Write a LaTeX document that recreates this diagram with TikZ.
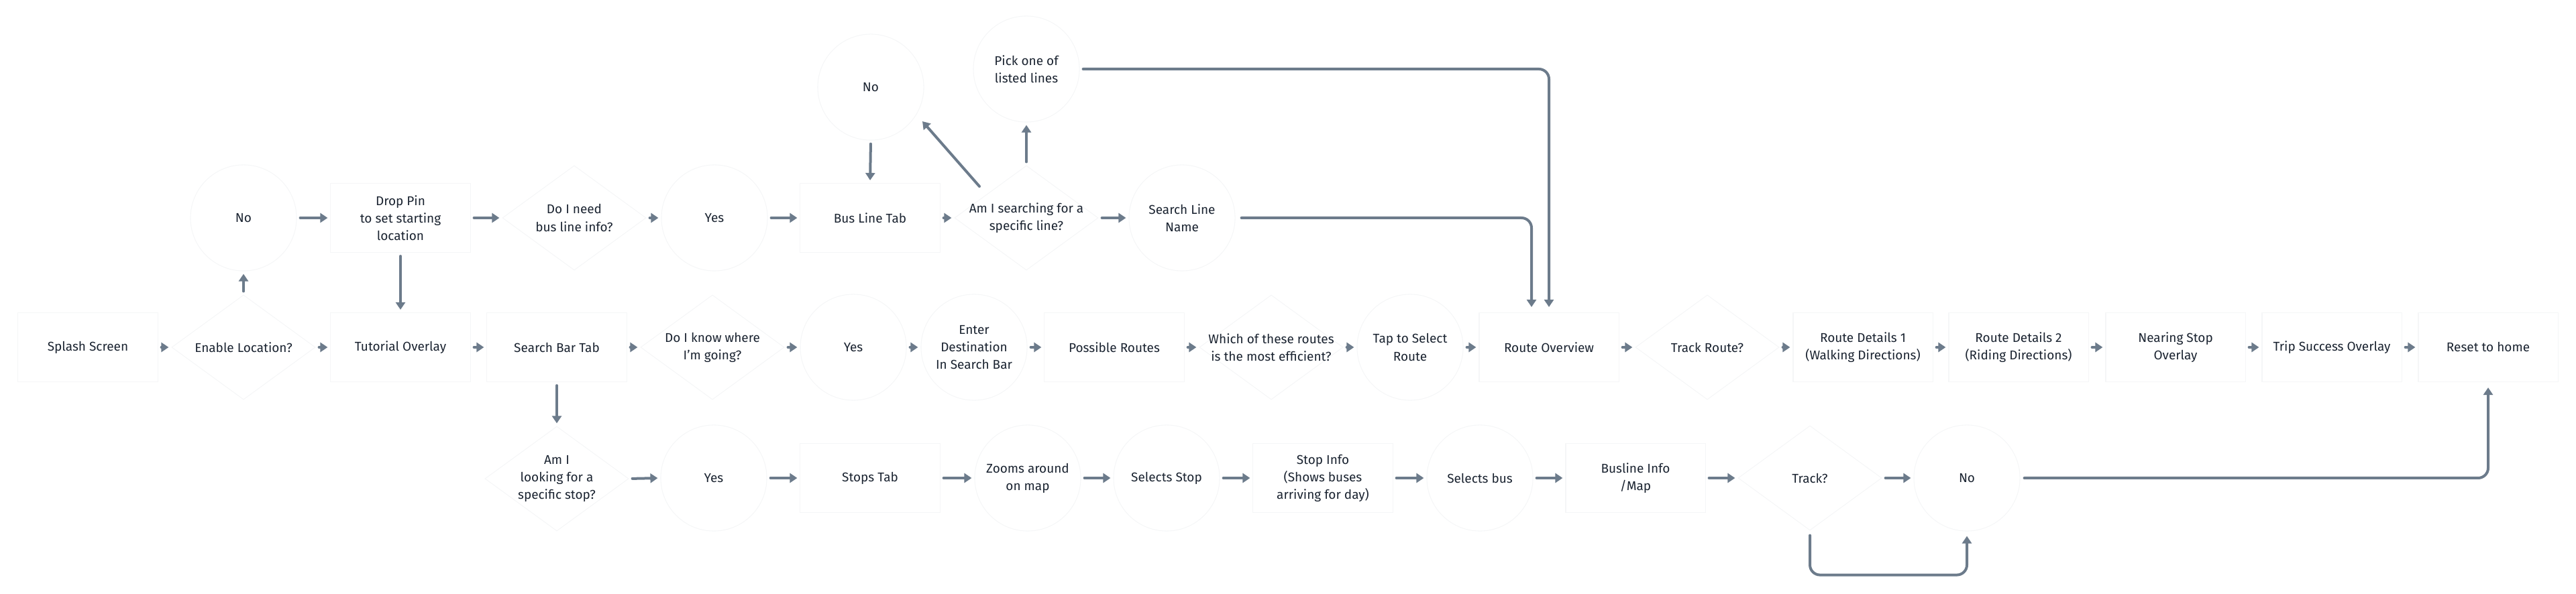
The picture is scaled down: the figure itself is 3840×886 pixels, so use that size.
\documentclass[tikz,border=0pt]{standalone}
\usepackage{fontspec}
\setmainfont{Fira Sans}
\usetikzlibrary{shapes.geometric,arrows.meta,calc}
\definecolor{ink}{HTML}{1B2431}
\definecolor{arrowc}{HTML}{6C7B8B}
\definecolor{faint}{HTML}{F5F6F7}
\begin{document}
\begin{tikzpicture}[x=0.01cm,y=-0.01cm,
  every node/.style={font=\fontsize{5.4pt}{7.4pt}\selectfont, text=ink, align=center},
  boxn/.style={draw=faint, line width=0.3pt, minimum width=2.08cm, minimum height=1.03cm, inner sep=0pt},
  circn/.style={draw=faint, line width=0.3pt, circle, minimum size=1.58cm, inner sep=0pt},
  diam/.style={draw=faint, line width=0.3pt, diamond, minimum width=2.14cm, minimum height=1.56cm, inner sep=0pt},
  txt/.style={inner sep=0pt},
  arr/.style={draw=arrowc, line width=0.04cm, line cap=round, -{Triangle[length=0.11cm,width=0.14cm]}, shorten <=0.05cm, shorten >=0.04cm},
  conn/.style={arr, rounded corners=0.15cm}
]
\useasboundingbox (0,0) rectangle (3840,886);

% ---------- main row ----------
\node[boxn] (splash) at (131,518) {Splash Screen};
\node[diam] (enable) at (363,518) {};
\node[txt] (enableT) at (enable) {Enable Location?};
\node[boxn] (tutorial) at (597,518) {Tutorial Overlay};
\node[boxn] (searchbar) at (830,518) {Search Bar Tab};
\node[diam] (know) at (1062,518) {};
\node[txt] (knowT) at (know) {Do I know where\\I'm going?};
\node[circn] (yesA) at (1272,518) {Yes};
\node[circn] (enter) at (1452,518) {Enter\\Destination\\In Search Bar};
\node[boxn] (possible) at (1661,518) {Possible Routes};
\node[diam] (which) at (1895,518) {};
\node[txt] (whichT) at (which) {Which of these routes\\is the most efficient?};
\node[circn] (tap) at (2102,518) {Tap to Select\\Route};
\node[boxn] (overview) at (2309,518) {Route Overview};
\node[diam] (trackroute) at (2545,518) {};
\node[txt] (trackrouteT) at (trackroute) {Track Route?};
\node[boxn] (rdA) at (2777,518) {Route Details 1\\(Walking Directions)};
\node[boxn] (rdB) at (3009,518) {Route Details 2\\(Riding Directions)};
\node[boxn] (nearing) at (3243,518) {Nearing Stop\\Overlay};
\node[boxn] (trip) at (3476,518) {Trip Success Overlay};
\node[boxn] (reset) at (3709,518) {Reset to home};

% ---------- top row ----------
\node[circn] (noA) at (363,325) {No};
\node[boxn] (droppin) at (597,325) {Drop Pin\\to set starting\\location};
\node[diam] (needinfo) at (856,325) {};
\node[txt] (needinfoT) at (needinfo) {Do I need\\bus line info?};
\node[circn] (yesB) at (1065,325) {Yes};
\node[boxn] (buslinetab) at (1297,325) {Bus Line Tab};
\node[diam] (searching) at (1530,325) {};
\node[txt] (searchingT) at (searching) {Am I searching for a\\specific line?};
\node[circn] (searchline) at (1762,325) {Search Line\\Name};
\node[circn] (noB) at (1298,130) {No};
\node[circn] (pick) at (1530,103) {Pick one of\\listed lines};

% ---------- bottom row ----------
\node[diam] (looking) at (830,714) {};
\node[txt] (lookingT) at (looking) {Am I\\looking for a\\specific stop?};
\node[circn] (yesC) at (1064,713) {Yes};
\node[boxn] (stopstab) at (1297,713) {Stops Tab};
\node[circn] (zooms) at (1532,713) {Zooms around\\on map};
\node[circn] (selstop) at (1739,713) {Selects Stop};
\node[boxn] (stopinfo) at (1972,713) {Stop Info\\(Shows buses\\arriving for day)};
\node[circn] (selbus) at (2206,713) {Selects bus};
\node[boxn] (busline) at (2438,713) {Busline Info\\/Map};
\node[diam] (track) at (2698,713) {};
\node[txt] (trackT) at (track) {Track?};
\node[circn] (noC) at (2932,713) {No};

% ---------- main row arrows ----------
\draw[arr] (splash.east) -- (enable.west);
\draw[arr] (enable.east) -- (tutorial.west);
\draw[arr] (tutorial.east) -- (searchbar.west);
\draw[arr] (searchbar.east) -- (know.west);
\draw[arr] (know.east) -- (yesA.west);
\draw[arr] (yesA.east) -- (enter.west);
\draw[arr] (enter.east) -- (possible.west);
\draw[arr] (possible.east) -- (which.west);
\draw[arr] (which.east) -- (tap.west);
\draw[arr] (tap.east) -- (overview.west);
\draw[arr] (overview.east) -- (trackroute.west);
\draw[arr] (trackroute.east) -- (rdA.west);
\draw[arr] (rdA.east) -- (rdB.west);
\draw[arr] (rdB.east) -- (nearing.west);
\draw[arr] (nearing.east) -- (trip.west);
\draw[arr] (trip.east) -- (reset.west);

% ---------- vertical links ----------
\draw[arr] (enable.north) -- (noA.south);
\draw[arr] (droppin.south) -- (tutorial.north);
\draw[arr] (searchbar.south) -- (looking.north);
\draw[arr] (noB.south) -- (buslinetab.north);
\draw[arr] (searching.north) -- (pick.south);
\coordinate (diagS) at ($(searching.center)+(-70,-47)$);
\coordinate (diagE) at ($(noB.center)+(77,51)$);
\draw[arr, shorten <=0pt, shorten >=0pt] (diagS) -- (diagE);

% ---------- top row arrows ----------
\draw[arr] (noA.east) -- (droppin.west);
\draw[arr] (droppin.east) -- (needinfo.west);
\draw[arr] (needinfo.east) -- (yesB.west);
\draw[arr] (yesB.east) -- (buslinetab.west);
\draw[arr] (buslinetab.east) -- (searching.west);
\draw[arr] (searching.east) -- (searchline.west);

% ---------- bottom row arrows ----------
\draw[arr] (looking.east) -- (yesC.west);
\draw[arr] (yesC.east) -- (stopstab.west);
\draw[arr] (stopstab.east) -- (zooms.west);
\draw[arr] (zooms.east) -- (selstop.west);
\draw[arr] (selstop.east) -- (stopinfo.west);
\draw[arr] (stopinfo.east) -- (selbus.west);
\draw[arr] (selbus.east) -- (busline.west);
\draw[arr] (busline.east) -- (track.west);
\draw[arr] (track.east) -- (noC.west);

% ---------- long connectors ----------
\draw[conn, shorten >=0.08cm] (pick.east) -- (pick.east -| overview.north) -- (overview.north);
\coordinate (ovIn) at ($(overview.north)+(-26,0)$);
\draw[conn, shorten <=0.09cm, shorten >=0.08cm] (searchline.east) -- (searchline.east -| ovIn) -- (ovIn);
\draw[conn, shorten <=0.06cm, shorten >=0.08cm] (noC.east) -- (noC.east -| reset.south) -- (reset.south);
\coordinate (loopL) at ($(track.south)+(0,66)$);
\draw[conn, shorten <=0.07cm, shorten >=0.07cm] (track.south) -- (loopL) -| (noC.south);
\end{tikzpicture}
\end{document}
